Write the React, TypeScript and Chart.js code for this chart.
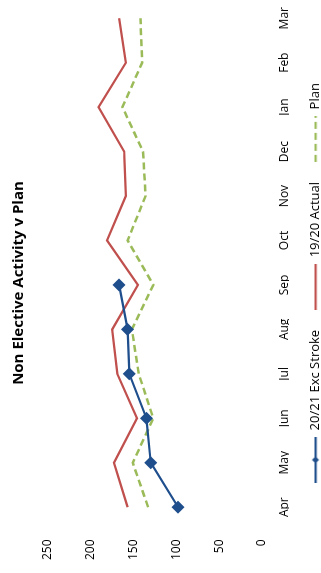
import React, { useEffect, useRef } from "react";
import { Chart, registerables } from "chart.js";

Chart.register(...registerables);

// Monthly non-elective activity, financial year order
const months = ["Apr", "May", "Jun", "Jul", "Aug", "Sep", "Oct", "Nov", "Dec", "Jan", "Feb", "Mar"];
const excStroke2021: (number | null)[] = [98, 130, 135, 155, 157, 167, null, null, null, null, null, null];
const actual1920: number[] = [157, 173, 146, 169, 175, 145, 181, 159, 161, 191, 159, 167];
const plan: number[] = [133, 151, 127, 144, 152, 127, 157, 136, 139, 163, 140, 142];
const valueTicks = [0, 50, 100, 150, 200, 250];

const BLUE = "#1F4E8C";
const RED = "#C0504D";
const GREEN = "#9BBB59";
const FONT = "'Open Sans', sans-serif";

// Chart is laid out landscape, then turned a quarter turn counter-clockwise
const W = 600;
const H = 321;

function legendSwatch(color: string, dash: number[], marker: boolean): HTMLCanvasElement {
  const c = document.createElement("canvas");
  c.width = 46;
  c.height = 12;
  const ctx = c.getContext("2d")!;
  ctx.strokeStyle = color;
  ctx.lineWidth = 2.25;
  ctx.setLineDash(dash);
  ctx.beginPath();
  ctx.moveTo(0, 6);
  ctx.lineTo(46, 6);
  ctx.stroke();
  if (marker) {
    ctx.setLineDash([]);
    ctx.fillStyle = color;
    ctx.beginPath();
    ctx.moveTo(23, 2.5);
    ctx.lineTo(26.5, 6);
    ctx.lineTo(23, 9.5);
    ctx.lineTo(19.5, 6);
    ctx.closePath();
    ctx.fill();
  }
  return c;
}

export default function App() {
  const canvasRef = useRef<HTMLCanvasElement | null>(null);

  useEffect(() => {
    const canvas = canvasRef.current;
    if (!canvas) return;
    const swatches = [
      legendSwatch(BLUE, [], true),
      legendSwatch(RED, [], false),
      legendSwatch(GREEN, [7, 4], false),
    ];
    const chart = new Chart(canvas, {
      type: "line",
      data: {
        labels: months,
        datasets: [
          {
            label: "20/21 Exc Stroke",
            data: excStroke2021,
            borderColor: BLUE,
            backgroundColor: BLUE,
            borderWidth: 2.25,
            pointStyle: "rectRot",
            pointRadius: 6.5,
            pointBorderWidth: 0,
            pointBackgroundColor: BLUE,
            tension: 0,
            spanGaps: false,
            order: 0,
          },
          {
            label: "19/20 Actual",
            data: actual1920,
            borderColor: RED,
            backgroundColor: RED,
            borderWidth: 2.25,
            pointRadius: 0,
            tension: 0,
            order: 1,
          },
          {
            label: "Plan",
            data: plan,
            borderColor: GREEN,
            backgroundColor: GREEN,
            borderWidth: 2.5,
            borderDash: [7, 4],
            pointRadius: 0,
            tension: 0,
            order: 2,
          },
        ],
      },
      options: {
        responsive: false,
        animation: false,
        layout: { padding: { left: 3, right: 23, top: 0, bottom: 0 } },
        plugins: {
          title: {
            display: true,
            text: "Non Elective Activity v Plan",
            color: "#000",
            font: { family: FONT, size: 15, weight: "bold" },
            padding: { top: 10, bottom: 20 },
          },
          legend: {
            position: "bottom",
            maxHeight: 32,
            labels: {
              color: "#000",
              font: { family: FONT, size: 13 },
              usePointStyle: true,
              pointStyleWidth: 46,
              boxHeight: 12,
              padding: 20,
              generateLabels: (ch: Chart) =>
                ch.data.datasets.map((ds, i) => ({
                  text: ds.label as string,
                  pointStyle: swatches[i],
                  fillStyle: "transparent",
                  strokeStyle: "transparent",
                  lineWidth: 0,
                  hidden: false,
                  datasetIndex: i,
                  fontColor: "#000",
                })),
            },
          },
          tooltip: { enabled: false },
        },
        scales: {
          x: {
            type: "category",
            offset: true,
            grid: { display: false, drawTicks: false },
            border: { display: false },
            afterFit: (scale: any) => {
              scale.height = 27;
            },
            ticks: {
              color: "#000",
              font: { family: FONT, size: 12 },
              padding: 15,
              maxRotation: 0,
              autoSkip: false,
            },
          },
          y: {
            min: valueTicks[0],
            max: valueTicks[valueTicks.length - 1],
            grid: { display: false, drawTicks: false },
            border: { display: false },
            afterBuildTicks: (scale: any) => {
              scale.ticks = valueTicks.map((v) => ({ value: v }));
            },
            ticks: {
              color: "#000",
              font: { family: FONT, size: 12 },
              padding: 10,
            },
          },
        },
      },
    });
    return () => chart.destroy();
  }, []);

  return (
    <div
      style={{
        position: "fixed",
        left: 0,
        top: 0,
        width: 321,
        height: 573,
        overflow: "hidden",
        background: "#fff",
      }}
    >
      <div
        style={{
          position: "absolute",
          left: 0,
          top: 0,
          width: W,
          height: H,
          transformOrigin: "0 0",
          transform: "translateY(573px) rotate(-90deg)",
        }}
      >
        <canvas ref={canvasRef} width={W} height={H} style={{ display: "block" }} />
      </div>
    </div>
  );
}
